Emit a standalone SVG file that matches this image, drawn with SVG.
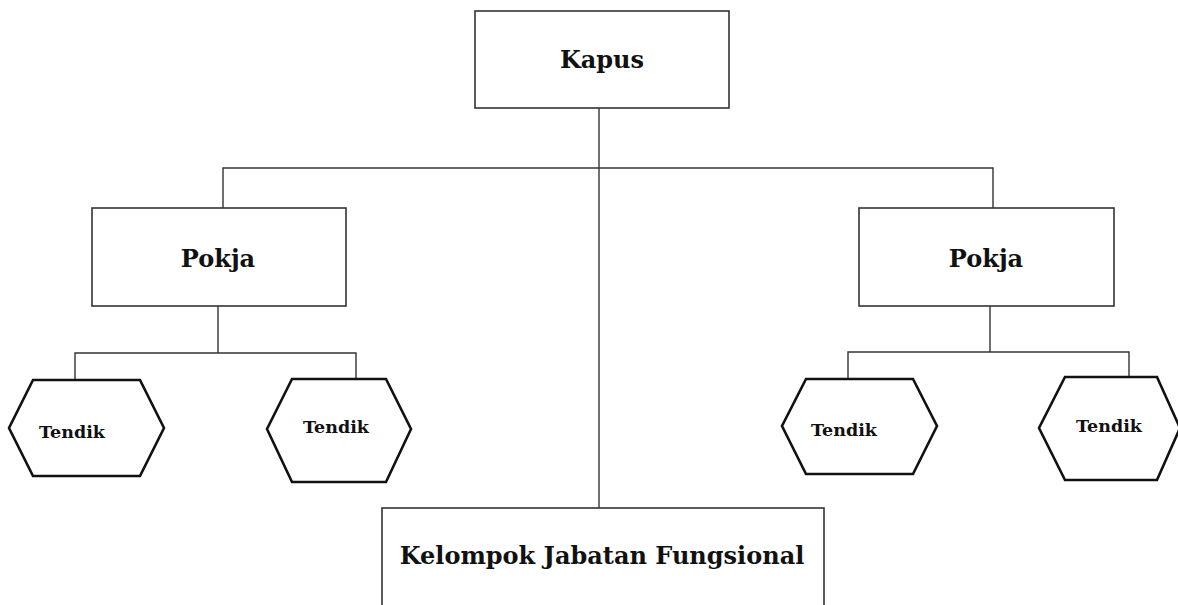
<svg xmlns="http://www.w3.org/2000/svg" width="1178" height="605" viewBox="0 0 1178 605">
<style>
.box{fill:#fff;stroke:#333;stroke-width:1.6}
.hex{fill:#fff;stroke:#111;stroke-width:2.6;stroke-linejoin:miter}
.conn{fill:none;stroke:#333;stroke-width:1.4}
.t{font-family:"DejaVu Serif","Liberation Serif",serif;font-weight:bold;fill:#111;text-anchor:middle}
.big{font-size:24px}
.small{font-size:17.5px}
</style>
<rect width="1178" height="605" fill="#fff"/>
<g id="connectors">
<path class="conn" d="M599,108 V508"/>
<path class="conn" d="M223,208 V168 H993 V208"/>
<path class="conn" d="M218,306 V353"/>
<path class="conn" d="M75,380 V353 H356 V379"/>
<path class="conn" d="M990,306 V352"/>
<path class="conn" d="M848,379 V352 H1129 V377"/>
</g>
<g id="kapus">
<rect class="box" x="475" y="11" width="254" height="97"/>
<text class="t big" x="602" y="68">Kapus</text>
</g>
<g id="pokja-left">
<rect class="box" x="92" y="208" width="254" height="98"/>
<text class="t big" x="218" y="267">Pokja</text>
</g>
<g id="pokja-right">
<rect class="box" x="859" y="208" width="255" height="98"/>
<text class="t big" x="986" y="267">Pokja</text>
</g>
<g id="tendik-1">
<polygon class="hex" points="33,380 140,380 164,428 140,476 33,476 9,428"/>
<text class="t small" x="72" y="438">Tendik</text>
</g>
<g id="tendik-2">
<polygon class="hex" points="292,379 386,379 411,429 386,482 292,482 267,429"/>
<text class="t small" x="336" y="433">Tendik</text>
</g>
<g id="tendik-3">
<polygon class="hex" points="806,379 913,379 937,426 913,474 806,474 782,426"/>
<text class="t small" x="844" y="436">Tendik</text>
</g>
<g id="tendik-4">
<polygon class="hex" points="1065,377 1157,377 1180,428 1157,480 1065,480 1039,428"/>
<text class="t small" x="1109" y="432">Tendik</text>
</g>
<g id="kjf">
<rect class="box" x="382" y="508" width="442" height="110"/>
<text class="t big" x="602" y="564">Kelompok Jabatan Fungsional</text>
</g>
</svg>
